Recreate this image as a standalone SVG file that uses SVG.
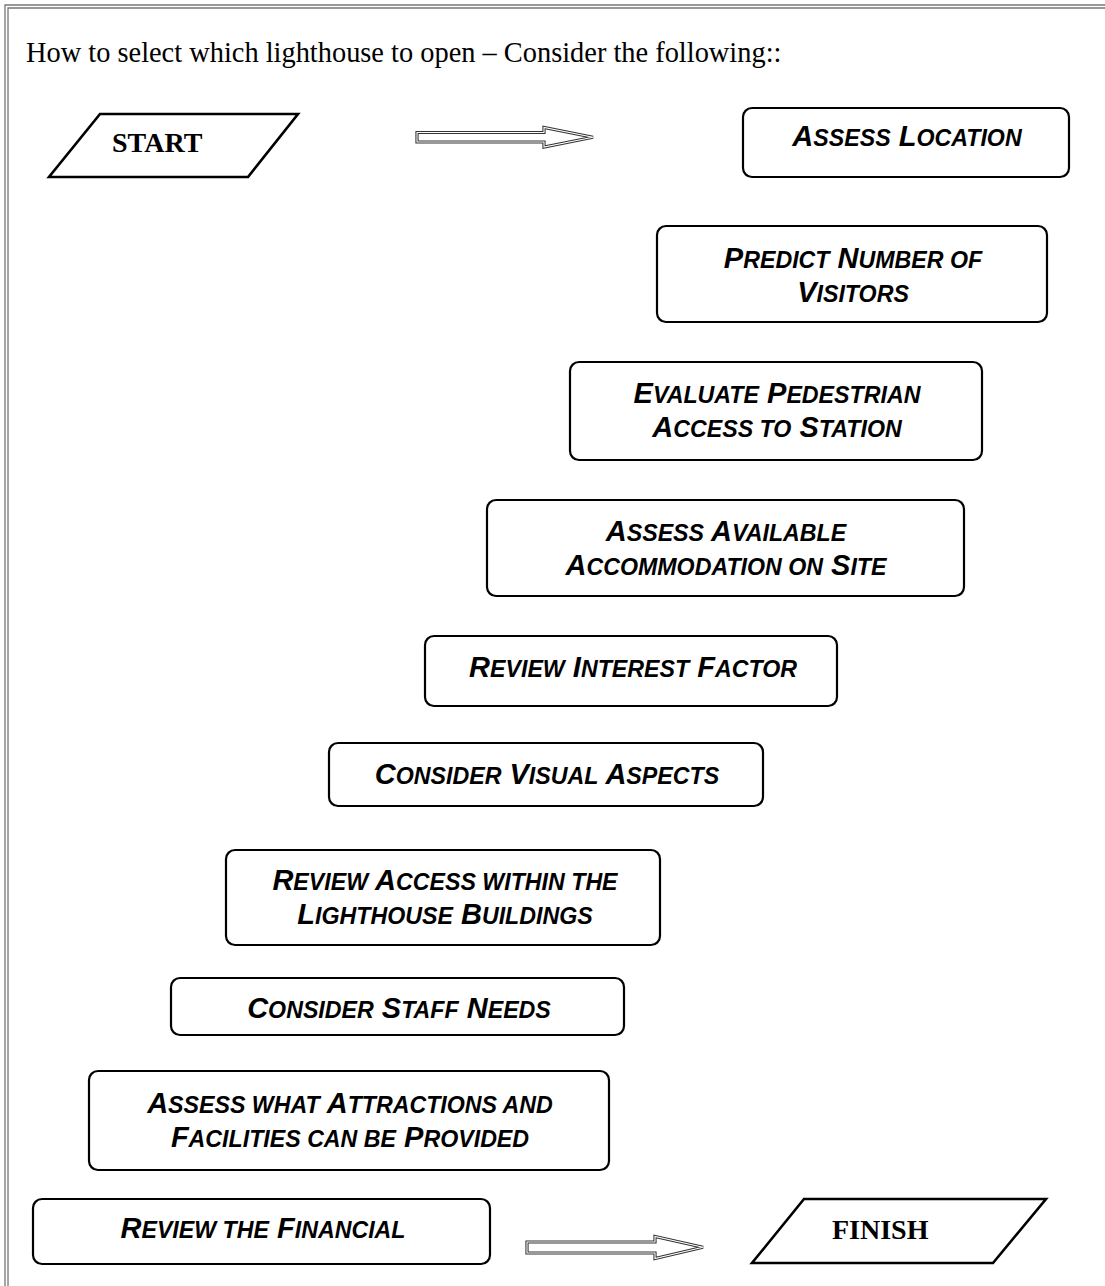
<svg xmlns="http://www.w3.org/2000/svg" width="1105" height="1286" viewBox="0 0 1105 1286">
<style>
.box{fill:#fff;stroke:#000;stroke-width:2.2}
.para{fill:#fff;stroke:#000;stroke-width:2.6}
.lbl{font-family:"Liberation Sans",Arial,sans-serif;font-weight:bold;font-style:italic;font-size:29px;fill:#000;text-anchor:middle}
.sc{font-size:23.2px}
.term{font-family:"Liberation Serif","Times New Roman",serif;font-weight:bold;font-size:28px;fill:#000}
.title{font-family:"Liberation Serif","Times New Roman",serif;font-size:28.4px;fill:#000}
.arrOut{fill:#fff;stroke:#333;stroke-width:3.2;stroke-linejoin:miter}
.arrIn{fill:none;stroke:#fff;stroke-width:1.1;stroke-linejoin:miter}
.frame{stroke:#777;stroke-width:1.3;fill:none}
</style>
<rect width="1105" height="1286" fill="#fff"/>
<g id="frame">
<path class="frame" d="M5 1286 V5 H1105"/>
<path class="frame" d="M8 1286 V8 H1105"/>
</g>
<text class="title" x="26" y="62">How to select which lighthouse to open – Consider the following::</text>

<g id="connectors">
<polygon class="arrOut" points="417,132.5 544,132.5 544,127.5 593,137.3 544,147 544,142 417,142"/>
<polygon class="arrIn" points="417,132.5 544,132.5 544,127.5 593,137.3 544,147 544,142 417,142"/>
<polygon class="arrOut" points="527,1242 655,1242 655,1236.5 703,1247.3 655,1258.5 655,1253 527,1253"/>
<polygon class="arrIn" points="527,1242 655,1242 655,1236.5 703,1247.3 655,1258.5 655,1253 527,1253"/>
</g>

<g id="start">
<polygon class="para" points="100,114 298,114 248,177 49,177"/>
<text class="term" x="112" y="152">START</text>
</g>

<g id="finish">
<polygon class="para" points="804,1199 1046,1199 993,1263 752,1263"/>
<text class="term" x="832" y="1239">FINISH</text>
</g>

<g id="n1">
<rect class="box" x="743" y="108" width="326" height="69" rx="9"/>
<text class="lbl" x="907" y="146">A<tspan class="sc">SSESS</tspan> L<tspan class="sc">OCATION</tspan></text>
</g>

<g id="n2">
<rect class="box" x="657" y="226" width="390" height="96" rx="9"/>
<text class="lbl" x="853" y="268">P<tspan class="sc">REDICT</tspan> N<tspan class="sc">UMBER OF</tspan></text>
<text class="lbl" x="853" y="302">V<tspan class="sc">ISITORS</tspan></text>
</g>

<g id="n3">
<rect class="box" x="570" y="362" width="412" height="98" rx="9"/>
<text class="lbl" x="777" y="403">E<tspan class="sc">VALUATE</tspan> P<tspan class="sc">EDESTRIAN</tspan></text>
<text class="lbl" x="777" y="437">A<tspan class="sc">CCESS TO</tspan> S<tspan class="sc">TATION</tspan></text>
</g>

<g id="n4">
<rect class="box" x="487" y="500" width="477" height="96" rx="9"/>
<text class="lbl" x="726" y="541">A<tspan class="sc">SSESS</tspan> A<tspan class="sc">VAILABLE</tspan></text>
<text class="lbl" x="726" y="575">A<tspan class="sc">CCOMMODATION ON</tspan> S<tspan class="sc">ITE</tspan></text>
</g>

<g id="n5">
<rect class="box" x="425" y="636" width="412" height="70" rx="9"/>
<text class="lbl" x="633" y="677">R<tspan class="sc">EVIEW</tspan> I<tspan class="sc">NTEREST</tspan> F<tspan class="sc">ACTOR</tspan></text>
</g>

<g id="n6">
<rect class="box" x="329" y="743" width="434" height="63" rx="9"/>
<text class="lbl" x="547" y="784">C<tspan class="sc">ONSIDER</tspan> V<tspan class="sc">ISUAL</tspan> A<tspan class="sc">SPECTS</tspan></text>
</g>

<g id="n7">
<rect class="box" x="226" y="850" width="434" height="95" rx="9"/>
<text class="lbl" x="445" y="890">R<tspan class="sc">EVIEW</tspan> A<tspan class="sc">CCESS WITHIN THE</tspan></text>
<text class="lbl" x="445" y="924">L<tspan class="sc">IGHTHOUSE</tspan> B<tspan class="sc">UILDINGS</tspan></text>
</g>

<g id="n8">
<rect class="box" x="171" y="978" width="453" height="57" rx="9"/>
<text class="lbl" x="399" y="1018">C<tspan class="sc">ONSIDER</tspan> S<tspan class="sc">TAFF</tspan> N<tspan class="sc">EEDS</tspan></text>
</g>

<g id="n9">
<rect class="box" x="89" y="1071" width="520" height="99" rx="9"/>
<text class="lbl" x="350" y="1113">A<tspan class="sc">SSESS WHAT</tspan> A<tspan class="sc">TTRACTIONS AND</tspan></text>
<text class="lbl" x="350" y="1147">F<tspan class="sc">ACILITIES CAN BE</tspan> P<tspan class="sc">ROVIDED</tspan></text>
</g>

<g id="n10">
<rect class="box" x="33" y="1199" width="457" height="65" rx="9"/>
<text class="lbl" x="263" y="1238">R<tspan class="sc">EVIEW THE</tspan> F<tspan class="sc">INANCIAL</tspan></text>
</g>
</svg>
